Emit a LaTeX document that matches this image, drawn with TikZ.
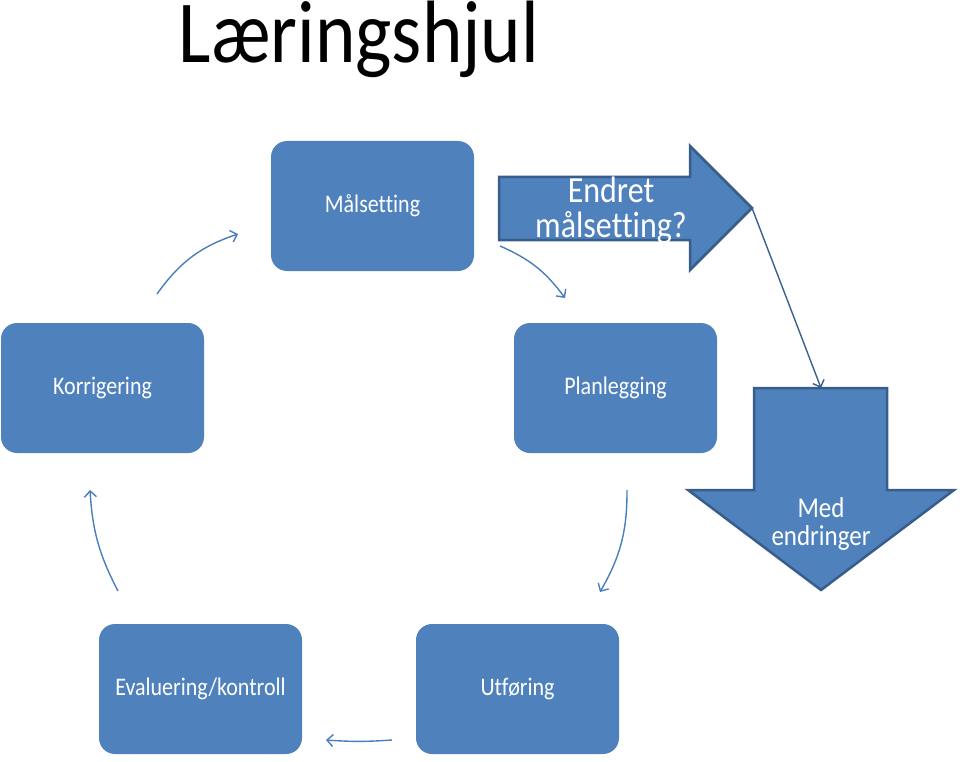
\documentclass[tikz,border=0pt]{standalone}
\usepackage{fontspec}
\setmainfont{Carlito}[Ligatures=NoCommon]
\usetikzlibrary{arrows.meta}
\definecolor{boxblue}{HTML}{4F81BD}
\definecolor{edgeblue}{HTML}{385D8A}
\definecolor{lineblue}{HTML}{4A7EBB}
\newcommand{\vstr}[1]{\scalebox{1}[1.15]{#1}}
\tikzset{
  box/.style={fill=boxblue, draw=none, rounded corners=16pt, minimum width=203pt, minimum height=130pt, text=white, font=\fontsize{22}{26}\selectfont, inner sep=0pt},
  bigarrow/.style={fill=boxblue, draw=edgeblue, line width=2.5pt, line join=miter},
  flow/.style={draw=lineblue, line width=1.4pt, -{Straight Barb[length=6pt,width=12pt,line width=1.4pt]}},
  arrowtext/.style={text=white, align=center, inner sep=0pt},
}
\begin{document}
\begin{tikzpicture}[x=1pt,y=-1pt]
\useasboundingbox (0,0) rectangle (960,762);
\node[anchor=base, font=\fontsize{77}{90}\selectfont, inner sep=0pt] (title) at (359,63) {\vstr{Læringshjul}};

\node[box] (mal) at (372.5,206) {\vstr{Målsetting}};
\node[box] (kor) at (102.5,388) {\vstr{Korrigering}};
\node[box] (plan) at (615.5,388) {\vstr{Planlegging}};
\node[box] (eval) at (200.5,689) {\vstr{Evaluering/kontroll}};
\node[box] (utf) at (517.5,689) {\vstr{Utføring}};

% right arrow
\draw[bigarrow] (499,177) -- (690,177) -- (690,146) -- (752,208) -- (690,270) -- (690,240) -- (499,240) -- cycle;
\coordinate (rtip) at (752,208);
\node[arrowtext, anchor=base, font=\fontsize{32}{35}\selectfont] (endret1) at (611,202) {\vstr{Endret}};
\node[arrowtext, anchor=base, font=\fontsize{32}{35}\selectfont] (endret2) at (611,237) {\vstr{målsetting?}};

% down arrow
\draw[bigarrow] (754,388) -- (887,388) -- (887,490) -- (954,490) -- (821,590) -- (688,490) -- (754,490) -- cycle;
\coordinate (dtop) at (821,388);
\node[arrowtext, anchor=base, font=\fontsize{25}{28}\selectfont] (med1) at (821,517) {\vstr{Med}};
\node[arrowtext, anchor=base, font=\fontsize{25}{28}\selectfont] (med2) at (821,545) {\vstr{endringer}};

% cycle connectors
\coordinate (a1s) at (157,294); \coordinate (a1e) at (238,234);
\coordinate (a2s) at (500,246); \coordinate (a2e) at (565,298);
\coordinate (a3s) at (627,490); \coordinate (a3e) at (600,592);
\coordinate (a4s) at (392,740); \coordinate (a4e) at (326,740);
\coordinate (a5s) at (118,591); \coordinate (a5e) at (90,490);
\draw[flow] (a1s) to[bend left=18] (a1e);
\draw[flow] (a2s) to[bend left=15] (a2e);
\draw[flow] (a3s) to[bend left=15] (a3e);
\draw[flow] (a4s) to[bend left=4] (a4e);
\draw[flow] (a5s) to[bend left=12] (a5e);
\draw[flow, draw=edgeblue!90!lineblue] (rtip) -- (dtop);
\end{tikzpicture}
\end{document}
